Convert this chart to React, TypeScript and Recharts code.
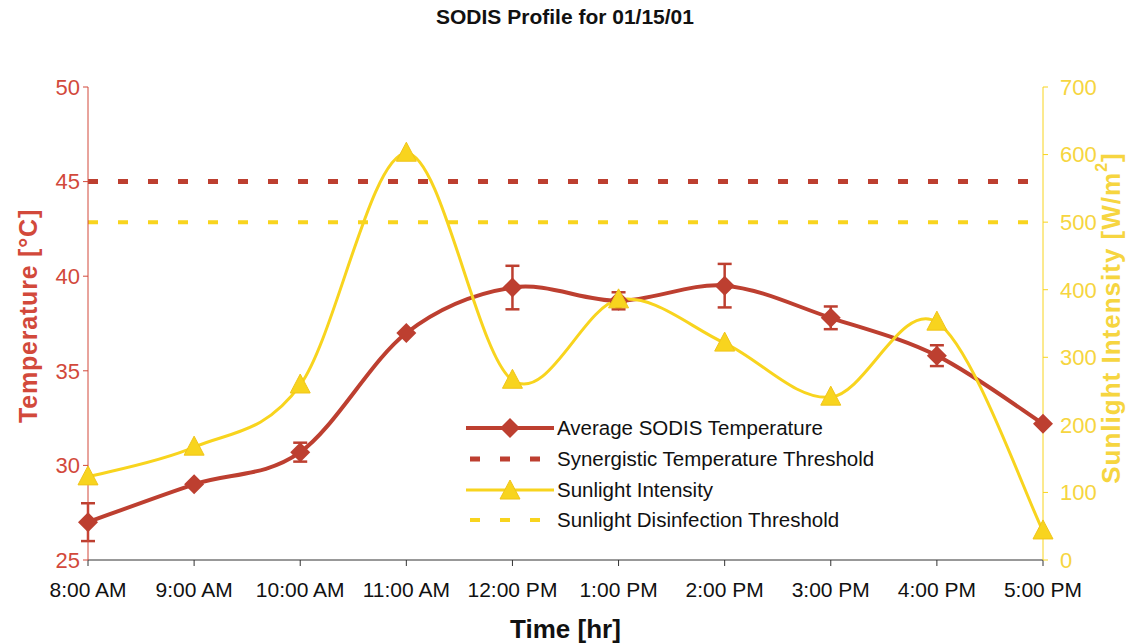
import { ComposedChart, Line, XAxis, YAxis, ErrorBar } from 'recharts';

const times = ['8:00 AM', '9:00 AM', '10:00 AM', '11:00 AM', '12:00 PM', '1:00 PM', '2:00 PM', '3:00 PM', '4:00 PM', '5:00 PM'];
const avgTemp = [27.0, 29.0, 30.7, 37.0, 39.4, 38.7, 39.5, 37.8, 35.8, 32.2];
const tempError = [1.0, 0, 0.5, 0, 1.15, 0.45, 1.15, 0.6, 0.55, 0];
const sunlight = [123, 167, 259, 602, 266, 385, 321, 241, 352, 43];
const tempThreshold = 45;
const sunThreshold = 500;
const tempTicks = [25, 30, 35, 40, 45, 50];
const sunTicks = [0, 100, 200, 300, 400, 500, 600, 700];

const RED = '#bd3f30';
const RED_TEXT = '#d2493b';
const YELLOW = '#f8d41e';
const YELLOW_TEXT = '#f6d540';
const FONT = '"Liberation Sans", Arial, sans-serif';

const data = times.map((time, i) => ({
  time,
  temp: avgTemp[i],
  tempErr: tempError[i],
  tempLimit: tempThreshold,
  sun: sunlight[i],
  sunLimit: sunThreshold,
}));

// Excel style smoothing (Catmull-Rom through every point)
function excelSmooth(context: any) {
  let pts: number[][] = [];
  return {
    areaStart() {},
    areaEnd() {},
    lineStart() {
      pts = [];
    },
    point(x: number, y: number) {
      pts.push([+x, +y]);
    },
    lineEnd() {
      if (!pts.length) return;
      context.moveTo(pts[0][0], pts[0][1]);
      for (let i = 0; i < pts.length - 1; i++) {
        const p0 = pts[Math.max(0, i - 1)];
        const p1 = pts[i];
        const p2 = pts[i + 1];
        const p3 = pts[Math.min(pts.length - 1, i + 2)];
        context.bezierCurveTo(
          p1[0] + (p2[0] - p0[0]) / 6,
          p1[1] + (p2[1] - p0[1]) / 6,
          p2[0] - (p3[0] - p1[0]) / 6,
          p2[1] - (p3[1] - p1[1]) / 6,
          p2[0],
          p2[1]
        );
      }
    },
  };
}

const Diamond = ({ cx, cy }: any) => {
  if (cx == null || cy == null) return null;
  const r = 10;
  return <path d={`M${cx},${cy - r}L${cx + r},${cy}L${cx},${cy + r}L${cx - r},${cy}Z`} fill={RED} />;
};

const Triangle = ({ cx, cy }: any) => {
  if (cx == null || cy == null) return null;
  return <path d={`M${cx},${cy - 11}L${cx + 10},${cy + 8}L${cx - 10},${cy + 8}Z`} fill={YELLOW} stroke="#f0c419" strokeWidth={1} />;
};

const legendItems = [
  { name: 'Average SODIS Temperature', color: RED, dash: false, marker: 'diamond' },
  { name: 'Synergistic Temperature Threshold', color: RED, dash: true, marker: '' },
  { name: 'Sunlight Intensity', color: YELLOW, dash: false, marker: 'triangle' },
  { name: 'Sunlight Disinfection Threshold', color: YELLOW, dash: true, marker: '' },
];

function ChartLegend() {
  return (
    <div style={{ position: 'absolute', left: 466, top: 413, fontFamily: FONT, fontSize: 20.5, color: '#111' }}>
      {legendItems.map((item) => (
        <div key={item.name} style={{ display: 'flex', alignItems: 'center', height: 30.7 }}>
          <svg width={88} height={24} style={{ marginRight: 3 }}>
            {item.dash ? (
              <line x1={4} y1={12} x2={88} y2={12} stroke={item.color} strokeWidth={item.color === RED ? 5 : 4} strokeDasharray="10 20" />
            ) : (
              <line x1={0} y1={12} x2={88} y2={12} stroke={item.color} strokeWidth={item.color === RED ? 4 : 3} />
            )}
            {item.marker === 'diamond' && <Diamond cx={44} cy={12} />}
            {item.marker === 'triangle' && <Triangle cx={44} cy={13} />}
          </svg>
          <span>{item.name}</span>
        </div>
      ))}
    </div>
  );
}

const LeftTitle = () => (
  <text x={28} y={316} transform="rotate(-90, 28, 316)" textAnchor="middle" dominantBaseline="central"
    fill={RED_TEXT} fontFamily={FONT} fontSize={25} fontWeight="bold" letterSpacing={0.8}>
    Temperature [°C]
  </text>
);

const RightTitle = () => (
  <text x={1111} y={318} transform="rotate(-90, 1111, 318)" textAnchor="middle" dominantBaseline="central"
    fill={YELLOW_TEXT} fontFamily={FONT} fontSize={26} fontWeight="bold" letterSpacing={1}>
    Sunlight Intensity [W/m<tspan dy={-10} fontSize={16}>2</tspan><tspan dy={10}>]</tspan>
  </text>
);

export default function App() {
  return (
    <div style={{ position: 'absolute', left: 0, top: 0, width: 1130, height: 643, background: '#fff' }}>
      <div style={{ position: 'absolute', top: 5, width: 1130, textAlign: 'center', fontFamily: FONT, fontWeight: 'bold', fontSize: 21, color: '#111' }}>
        SODIS Profile for 01/15/01
      </div>
      <ComposedChart width={1130} height={643} data={data} margin={{ top: 87, right: 0, bottom: 0, left: 0 }}>
        <XAxis
          dataKey="time"
          scale="point"
          padding={{ left: 0, right: 0 }}
          height={83}
          stroke="#333"
          tickSize={6}
          tickMargin={16}
          tick={{ fill: '#111', fontSize: 21, fontFamily: FONT }}
          interval={0}
          label={{ value: 'Time [hr]', position: 'insideBottom', offset: 5, fill: '#111', fontSize: 26, fontWeight: 'bold', fontFamily: FONT }}
        />
        <YAxis
          yAxisId="temp"
          orientation="left"
          width={88}
          domain={[25, 50]}
          ticks={tempTicks}
          stroke={RED_TEXT}
          tickSize={5}
          tickMargin={3}
          tick={{ fill: RED_TEXT, fontSize: 22, fontFamily: FONT }}
          label={<LeftTitle />}
        />
        <YAxis
          yAxisId="sun"
          orientation="right"
          width={87}
          domain={[0, 700]}
          ticks={sunTicks}
          stroke={YELLOW}
          tickSize={5}
          tickMargin={12}
          tick={{ fill: YELLOW_TEXT, fontSize: 22, fontFamily: FONT }}
          label={<RightTitle />}
        />
        <Line yAxisId="temp" dataKey="tempLimit" stroke={RED} strokeWidth={5} strokeDasharray="10 20" dot={false} isAnimationActive={false} />
        <Line yAxisId="sun" dataKey="sunLimit" stroke={YELLOW} strokeWidth={4} strokeDasharray="10 20" dot={false} isAnimationActive={false} />
        <Line yAxisId="temp" dataKey="temp" type={excelSmooth as any} stroke={RED} strokeWidth={4} dot={<Diamond />} isAnimationActive={false}>
          <ErrorBar dataKey="tempErr" width={7} stroke={RED} strokeWidth={2.5} direction="y" />
        </Line>
        <Line yAxisId="sun" dataKey="sun" type={excelSmooth as any} stroke={YELLOW} strokeWidth={3} dot={<Triangle />} isAnimationActive={false} />
      </ComposedChart>
      <ChartLegend />
    </div>
  );
}
